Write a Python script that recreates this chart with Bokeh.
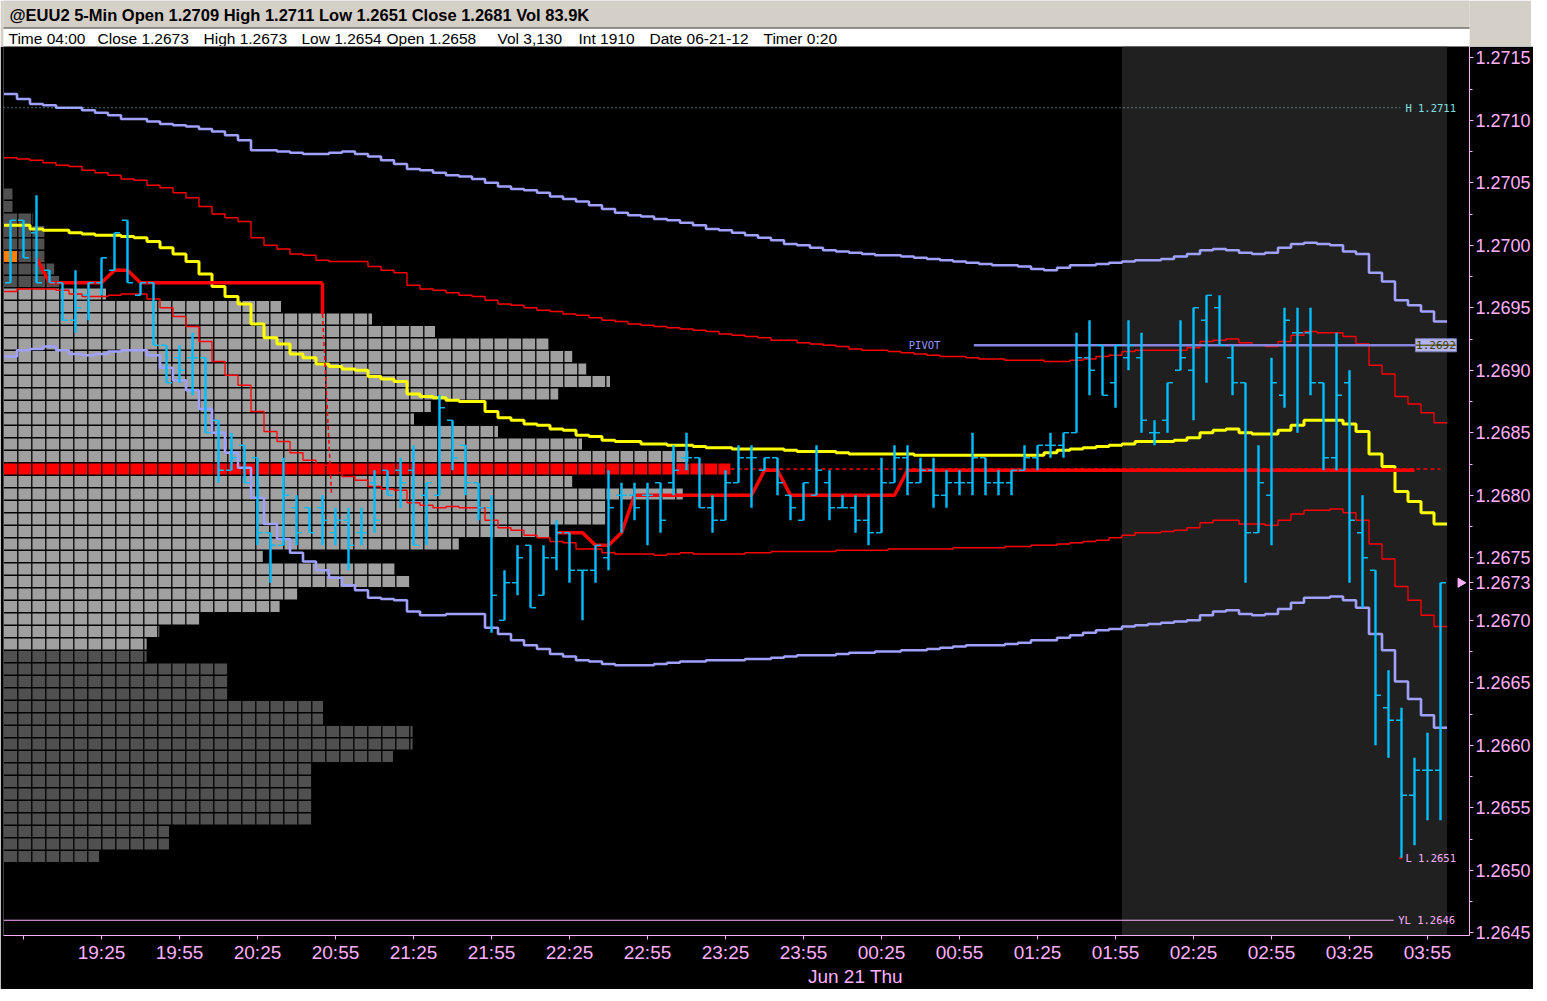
import numpy as np
from bokeh.plotting import figure
from bokeh.models import Range1d, FixedTicker, LinearAxis, PrintfTickFormatter
from bokeh.layouts import column
from bokeh.embed import file_html
from bokeh.resources import INLINE
from bokeh.core.properties import value

# ------------------------------------------------------------------ data
title_text = "@EUU2 5-Min Open 1.2709 High 1.2711 Low 1.2651 Close 1.2681 Vol 83.9K"
info_items = ["Time 04:00", "Close 1.2673", "High 1.2673", "Low 1.2654", "Open 1.2658",
              "Vol 3,130", "Int 1910", "Date 06-21-12", "Timer 0:20"]
info_x = [8, 97, 203, 301, 386, 497, 578, 649, 763]

# bar index: 0 = 19:25, one bar = 5 minutes
bars = list(range(-7, 104))
time_tick_bars = [-6, 0, 6, 12, 18, 24, 30, 36, 42, 48, 54, 60, 66, 72, 78, 84, 90, 96, 102]
time_tick_labels = ["", "19:25", "19:55", "20:25", "20:55", "21:25", "21:55", "22:25", "22:55",
                    "23:25", "23:55", "00:25", "00:55", "01:25", "01:55", "02:25", "02:55",
                    "03:25", "03:55"]
date_tick_bar = 58
date_label = "Jun 21 Thu"
session_start_bar = 79   # 02:00

price_ticks = [1.2645, 1.2650, 1.2655, 1.2660, 1.2665, 1.2670, 1.2675, 1.2680,
               1.2685, 1.2690, 1.2695, 1.2700, 1.2705, 1.2710, 1.2715]

open_ = [1.2697,1.2702,1.2701,1.2698,1.2697,1.2694,1.2696,
 1.2697,1.2698,1.2702,1.2696,1.2697,1.2692,1.2691,1.2691,1.2691,1.2686,
 1.2682,1.2684,1.2683,1.2677,1.2676,1.2679,1.2679,1.2679,1.2677,1.2678,
 1.2677,1.2681,1.2682,1.2682,1.2682,1.2680,1.2680,1.2686,1.2684,1.2681,
 1.2679,1.2670,1.2673,1.2676,1.2672,1.2675,1.2677,1.2674,1.2674,1.2675,
 1.2680,1.2680,1.2680,1.2681,1.2681,1.2683,1.2683,1.2679,1.2678,1.2681,
 1.2683,1.2682,1.2683,1.2680,1.2678,1.2680,1.2681,1.2679,1.2679,1.2678,
 1.2677,1.2681,1.2683,1.2681,1.2682,1.2680,1.2681,1.2681,1.2683,1.2681,
 1.2681,1.2682,1.2683,1.2684,1.2684,1.2685,1.2691,1.2692,1.2689,1.2691,
 1.2691,1.2685,1.2686,1.2690,1.2690,1.2694,1.2695,1.2691,1.2689,1.2677,
 1.2680,1.2688,1.2693,1.2693,1.2689,1.2683,1.2689,1.2677,1.2674,1.2663,
 1.2662,1.2656,1.2658,1.2658]
high = [1.2702,1.2702,1.2704,1.2698,1.2697,1.2698,1.2697,
 1.2699,1.2701,1.2702,1.2697,1.2697,1.2692,1.2692,1.2693,1.2691,1.2686,
 1.2685,1.2684,1.2683,1.2677,1.2683,1.2680,1.2679,1.2680,1.2679,1.2679,
 1.2679,1.2682,1.2682,1.2683,1.2684,1.2681,1.2688,1.2686,1.2684,1.2681,
 1.2680,1.2674,1.2676,1.2676,1.2676,1.2678,1.2677,1.2674,1.2676,1.2682,
 1.2681,1.2681,1.2681,1.2681,1.2684,1.2685,1.2683,1.2680,1.2682,1.2684,
 1.2684,1.2683,1.2683,1.2680,1.2681,1.2684,1.2682,1.2680,1.2680,1.2680,
 1.2683,1.2684,1.2684,1.2683,1.2683,1.2682,1.2682,1.2685,1.2683,1.2682,
 1.2682,1.2684,1.2684,1.2685,1.2685,1.2693,1.2694,1.2692,1.2692,1.2694,
 1.2693,1.2686,1.2689,1.2694,1.2695,1.2696,1.2696,1.2692,1.2689,1.2684,
 1.2691,1.2695,1.2695,1.2695,1.2689,1.2693,1.2690,1.2680,1.2674,1.2666,
 1.2663,1.2659,1.2661,1.2673]
low = [1.2697,1.2699,1.2697,1.2697,1.2694,1.2693,1.2694,
 1.2696,1.2698,1.2697,1.2696,1.2692,1.2689,1.2689,1.2688,1.2685,1.2681,
 1.2682,1.2681,1.2676,1.2673,1.2676,1.2676,1.2677,1.2676,1.2676,1.2674,
 1.2676,1.2677,1.2680,1.2679,1.2676,1.2676,1.2680,1.2682,1.2680,1.2678,
 1.2669,1.2670,1.2672,1.2671,1.2672,1.2674,1.2673,1.2670,1.2673,1.2674,
 1.2677,1.2678,1.2676,1.2677,1.2680,1.2682,1.2679,1.2677,1.2678,1.2681,
 1.2679,1.2682,1.2680,1.2678,1.2678,1.2680,1.2678,1.2679,1.2677,1.2676,
 1.2677,1.2681,1.2680,1.2681,1.2679,1.2679,1.2680,1.2680,1.2680,1.2680,
 1.2680,1.2682,1.2682,1.2683,1.2683,1.2685,1.2688,1.2688,1.2687,1.2690,
 1.2685,1.2684,1.2685,1.2690,1.2686,1.2689,1.2692,1.2688,1.2673,1.2677,
 1.2676,1.2687,1.2685,1.2688,1.2682,1.2682,1.2673,1.2671,1.2660,1.2659,
 1.2651,1.2652,1.2654,1.2654]
close = [1.2702,1.2699,1.2697,1.2697,1.2694,1.2695,1.2697,
 1.2699,1.2701,1.2697,1.2697,1.2692,1.2689,1.2690,1.2691,1.2685,1.2682,
 1.2683,1.2681,1.2677,1.2676,1.2680,1.2677,1.2677,1.2678,1.2678,1.2676,
 1.2677,1.2678,1.2680,1.2681,1.2676,1.2681,1.2687,1.2683,1.2681,1.2679,
 1.2672,1.2673,1.2675,1.2671,1.2675,1.2677,1.2674,1.2674,1.2676,1.2679,
 1.2680,1.2679,1.2680,1.2678,1.2682,1.2683,1.2679,1.2678,1.2681,1.2683,
 1.2683,1.2683,1.2681,1.2679,1.2681,1.2682,1.2679,1.2679,1.2678,1.2677,
 1.2681,1.2683,1.2681,1.2682,1.2680,1.2681,1.2681,1.2683,1.2681,1.2681,
 1.2682,1.2683,1.2684,1.2684,1.2685,1.2691,1.2690,1.2688,1.2692,1.2692,
 1.2686,1.2685,1.2689,1.2691,1.2695,1.2696,1.2692,1.2689,1.2677,1.2681,
 1.2689,1.2694,1.2693,1.2689,1.2683,1.2688,1.2678,1.2675,1.2664,1.2662,
 1.2656,1.2658,1.2658,1.2673]

vwap_yellow = [1.27016,1.27016,1.27013,1.27012,1.27012,1.27010,1.27009,
 1.27008,1.27008,1.27007,1.27006,1.27003,1.26998,1.26993,1.26987,1.26977,1.26967,
 1.26959,1.26953,1.26937,1.26926,1.26921,1.26913,1.26910,1.26905,1.26903,1.26901,
 1.26900,1.26895,1.26893,1.26891,1.26881,1.26879,1.26878,1.26876,1.26875,1.26875,
 1.26867,1.26862,1.26860,1.26857,1.26856,1.26853,1.26852,1.26848,1.26847,1.26844,
 1.26843,1.26843,1.26841,1.26841,1.26840,1.26840,1.26839,1.26838,1.26838,1.26837,
 1.26837,1.26837,1.26837,1.26836,1.26835,1.26835,1.26835,1.26834,1.26833,1.26833,
 1.26833,1.26833,1.26833,1.26832,1.26832,1.26832,1.26832,1.26832,1.26832,1.26832,
 1.26832,1.26832,1.26832,1.26834,1.26836,1.26837,1.26838,1.26839,1.26840,1.26841,
 1.26843,1.26843,1.26843,1.26844,1.26846,1.26850,1.26852,1.26853,1.26850,1.26849,
 1.26849,1.26852,1.26856,1.26860,1.26860,1.26860,1.26857,1.26851,1.26833,1.26823,
 1.26803,1.26795,1.26786,1.26777]
band1_upper = [1.27070,1.27069,1.27068,1.27066,1.27064,1.27063,1.27060,
 1.27058,1.27056,1.27053,1.27052,1.27048,1.27046,1.27042,1.27038,1.27031,1.27025,
 1.27022,1.27019,1.27006,1.27000,1.26997,1.26993,1.26992,1.26988,1.26987,1.26987,
 1.26987,1.26983,1.26980,1.26978,1.26968,1.26965,1.26964,1.26962,1.26960,1.26959,
 1.26956,1.26953,1.26952,1.26950,1.26948,1.26947,1.26945,1.26944,1.26942,1.26940,
 1.26939,1.26937,1.26936,1.26935,1.26934,1.26933,1.26932,1.26931,1.26929,1.26928,
 1.26927,1.26926,1.26924,1.26924,1.26922,1.26921,1.26920,1.26919,1.26917,1.26916,
 1.26916,1.26915,1.26914,1.26913,1.26912,1.26911,1.26911,1.26910,1.26909,1.26909,
 1.26908,1.26908,1.26908,1.26907,1.26907,1.26908,1.26909,1.26911,1.26912,1.26915,
 1.26916,1.26916,1.26916,1.26916,1.26918,1.26923,1.26924,1.26925,1.26922,1.26920,
 1.26919,1.26923,1.26928,1.26931,1.26930,1.26930,1.26927,1.26921,1.26904,1.26897,
 1.26879,1.26873,1.26866,1.26858]
band1_lower = [1.26963,1.26965,1.26965,1.26965,1.26964,1.26961,1.26959,
 1.26959,1.26960,1.26961,1.26961,1.26957,1.26950,1.26943,1.26935,1.26923,1.26907,
 1.26896,1.26888,1.26867,1.26851,1.26843,1.26834,1.26828,1.26824,1.26818,1.26815,
 1.26812,1.26807,1.26805,1.26804,1.26794,1.26792,1.26790,1.26791,1.26790,1.26790,
 1.26780,1.26774,1.26772,1.26768,1.26766,1.26763,1.26762,1.26757,1.26757,1.26754,
 1.26753,1.26753,1.26753,1.26752,1.26753,1.26754,1.26753,1.26753,1.26753,1.26753,
 1.26754,1.26754,1.26755,1.26755,1.26755,1.26755,1.26755,1.26756,1.26756,1.26756,
 1.26756,1.26757,1.26757,1.26757,1.26757,1.26757,1.26758,1.26758,1.26758,1.26758,
 1.26759,1.26759,1.26760,1.26760,1.26761,1.26762,1.26763,1.26764,1.26766,1.26768,
 1.26770,1.26770,1.26771,1.26772,1.26774,1.26778,1.26780,1.26780,1.26777,1.26777,
 1.26776,1.26780,1.26785,1.26788,1.26788,1.26789,1.26786,1.26780,1.26761,1.26749,
 1.26727,1.26716,1.26704,1.26695]
band2_upper = [1.27121,1.27117,1.27113,1.27112,1.27110,1.27110,1.27108,
 1.27106,1.27104,1.27101,1.27101,1.27099,1.27097,1.27096,1.27095,1.27093,1.27091,
 1.27088,1.27084,1.27076,1.27076,1.27075,1.27074,1.27073,1.27073,1.27074,1.27075,
 1.27073,1.27071,1.27068,1.27065,1.27061,1.27060,1.27058,1.27056,1.27055,1.27053,
 1.27050,1.27047,1.27045,1.27044,1.27042,1.27039,1.27037,1.27035,1.27032,1.27029,
 1.27026,1.27024,1.27023,1.27021,1.27020,1.27018,1.27016,1.27013,1.27012,1.27010,
 1.27008,1.27006,1.27004,1.27001,1.27000,1.26998,1.26996,1.26995,1.26994,1.26993,
 1.26992,1.26992,1.26991,1.26990,1.26989,1.26988,1.26987,1.26986,1.26985,1.26984,
 1.26984,1.26983,1.26981,1.26980,1.26982,1.26984,1.26984,1.26985,1.26986,1.26987,
 1.26988,1.26988,1.26989,1.26991,1.26993,1.26996,1.26997,1.26996,1.26994,1.26993,
 1.26994,1.26998,1.27001,1.27002,1.27001,1.27000,1.26995,1.26993,1.26978,1.26971,
 1.26956,1.26952,1.26947,1.26939]
band2_lower = [1.26911,1.26916,1.26917,1.26919,1.26916,1.26913,1.26912,
 1.26913,1.26915,1.26916,1.26916,1.26912,1.26902,1.26892,1.26884,1.26869,1.26850,
 1.26834,1.26822,1.26798,1.26777,1.26765,1.26754,1.26747,1.26740,1.26734,1.26728,
 1.26724,1.26718,1.26717,1.26716,1.26707,1.26704,1.26704,1.26705,1.26705,1.26705,
 1.26694,1.26689,1.26684,1.26680,1.26677,1.26673,1.26671,1.26668,1.26667,1.26665,
 1.26664,1.26664,1.26664,1.26665,1.26666,1.26667,1.26667,1.26668,1.26668,1.26668,
 1.26669,1.26669,1.26670,1.26671,1.26672,1.26672,1.26672,1.26673,1.26674,1.26674,
 1.26675,1.26675,1.26676,1.26676,1.26677,1.26678,1.26679,1.26680,1.26680,1.26680,
 1.26681,1.26682,1.26684,1.26684,1.26686,1.26688,1.26690,1.26692,1.26693,1.26695,
 1.26696,1.26697,1.26698,1.26699,1.26700,1.26704,1.26707,1.26708,1.26705,1.26704,
 1.26705,1.26709,1.26714,1.26718,1.26718,1.26719,1.26716,1.26710,1.26689,1.26676,
 1.26651,1.26637,1.26624,1.26614]

# developing POC (thick red), two sessions
dpoc_a_bars = list(range(-5, 18))
dpoc_a = [1.2699, 1.2697, 1.2697, 1.2697, 1.2697, 1.2697, 1.2698, 1.2698,
          1.2697, 1.2697, 1.2697, 1.2697, 1.2697, 1.2697, 1.2697, 1.2697,
          1.2697, 1.2697, 1.2697, 1.2697, 1.2697, 1.2697, 1.2697]
dpoc_b_bars = list(range(35, 102))
dpoc_b = [1.2677, 1.2677, 1.2677, 1.2676, 1.2676, 1.2677,
          1.2680, 1.2680, 1.2680, 1.2680, 1.2680, 1.2680, 1.2680, 1.2680, 1.2680, 1.2680,
          1.2682, 1.2682,
          1.2680, 1.2680, 1.2680, 1.2680, 1.2680, 1.2680, 1.2680, 1.2680, 1.2680,
          1.2682, 1.2682, 1.2682, 1.2682, 1.2682, 1.2682, 1.2682, 1.2682, 1.2682, 1.2682,
          1.2682, 1.2682, 1.2682, 1.2682, 1.2682, 1.2682, 1.2682, 1.2682, 1.2682, 1.2682,
          1.2682, 1.2682, 1.2682, 1.2682, 1.2682, 1.2682, 1.2682, 1.2682, 1.2682, 1.2682,
          1.2682, 1.2682, 1.2682, 1.2682, 1.2682, 1.2682, 1.2682, 1.2682, 1.2682, 1.2682]

# market profile (left): price levels and TPO widths
profile_price = [1.2704, 1.2703, 1.2702, 1.2701, 1.2700, 1.2699, 1.2698, 1.2697,
                 1.2696, 1.2695, 1.2694, 1.2693, 1.2692, 1.2691, 1.2690, 1.2689,
                 1.2688, 1.2687, 1.2686, 1.2685, 1.2684, 1.2683, 1.2682, 1.2681,
                 1.2680, 1.2679, 1.2678, 1.2677, 1.2676, 1.2675, 1.2674, 1.2673,
                 1.2672, 1.2671, 1.2670, 1.2669, 1.2668, 1.2667, 1.2666, 1.2665,
                 1.2664, 1.2663, 1.2662, 1.2661, 1.2660, 1.2659, 1.2658, 1.2657,
                 1.2656, 1.2655, 1.2654, 1.2653, 1.2652, 1.2651]
profile_tpo = [0.62, 0.62, 2.1, 2.9, 2.9, 2.9, 3.6, 4.0,
               7.3, 19.8, 26.3, 30.8, 38.9, 40.6, 41.6, 43.3,
               39.6, 30.5, 29.3, 35.3, 41.3, 48.9, 51.9, 40.6,
               48.5, 43.0, 43.0, 39.0, 32.5, 18.5, 27.9, 29.0,
               21.0, 19.7, 14.0, 11.1, 10.2, 10.2, 16.0, 16.0,
               16.0, 22.8, 22.8, 29.2, 29.2, 27.8, 22.0, 22.0,
               22.0, 22.0, 22.0, 11.8, 11.8, 6.8]
profile_poc = 1.2682
profile_vah = 1.2696
profile_val = 1.2668
profile_open = 1.2699

pivot = 1.2692
prev_high = 1.2711
prev_low_yl = 1.2646
sess_low = 1.2651
last_price = 1.2673

# ------------------------------------------------------------------ styles
PINK = "#ffb0ff"
CYAN = "#00bfff"
LAV = "#a0a0ff"
RED = "#ff0000"
YEL = "#ffff00"
FONT = "Liberation Sans"
MONO = "DejaVu Sans Mono"

FRAME_W = 1466
FRAME_H = 889
LEFT_B = 3
RIGHT_B = 62
PX_PER_BAR = 13.0
PX_PER_PRICE = 125000.0
X0 = (LEFT_B - 101) / PX_PER_BAR
X1 = X0 + FRAME_W / PX_PER_BAR
Y1 = 1.27159
Y0 = Y1 - FRAME_H / PX_PER_PRICE

# ------------------------------------------------------------------ header
hdr = figure(frame_width=FRAME_W, frame_height=46, x_range=Range1d(LEFT_B, LEFT_B + FRAME_W),
             y_range=Range1d(46, 0), output_backend="svg", toolbar_location=None,
             x_axis_location=None, y_axis_location=None, min_border_left=LEFT_B,
             min_border_right=RIGHT_B, min_border_top=0, min_border_bottom=0,
             background_fill_color="#d4d0c8", border_fill_color="#d4d0c8",
             outline_line_color=None)
hdr.grid.visible = False
hdr.quad(left=[0], right=[1600], top=[28], bottom=[47], fill_color="white", line_color=None)
hdr.segment(x0=[0], y0=[27.5], x1=[1600], y1=[27.5], line_color="#404040", line_width=1)
hdr.text(x=[9], y=[14], text=[title_text], text_font=value(FONT), text_font_style="bold",
         text_font_size="16.5px", text_baseline="middle", text_color="black")
hdr.text(x=info_x, y=[37.5] * len(info_x), text=info_items, text_font=value(FONT),
         text_font_size="15.5px", text_baseline="middle", text_color="black")

# ------------------------------------------------------------------ main chart
p = figure(frame_width=FRAME_W, frame_height=FRAME_H, x_range=Range1d(X0, X1),
           y_range=Range1d(Y0, Y1), output_backend="svg", toolbar_location=None,
           y_axis_location="right", background_fill_color="black", border_fill_color="black",
           outline_line_color=None, min_border_left=LEFT_B, min_border_top=0,
           min_border_right=0, min_border_bottom=0)
p.grid.visible = False

# session shading
p.quad(left=[session_start_bar - 0.5], right=[bars[-1] + 0.5], bottom=[Y0], top=[Y1],
       fill_color="#202020", line_color=None)

# market profile
cw = 14 / PX_PER_BAR
shift = 0.00001
pl = (3.3 - 101) / PX_PER_BAR
ql, qr, qt, qb, qc = [], [], [], [], []
for pr, n in zip(profile_price, profile_tpo):
    if round(pr, 4) == profile_poc:
        c = RED
    elif profile_val <= pr + 1e-9 and pr - 1e-9 <= profile_vah:
        c = "#a0a0a0"
    else:
        c = "#505050"
    ql.append(pl); qr.append(pl + n * cw)
    qt.append(pr + 0.00005 + shift); qb.append(pr - 0.00005 + shift); qc.append(c)
p.quad(left=ql, right=qr, top=qt, bottom=qb, fill_color=qc, line_color=None)
p.quad(left=[pl], right=[pl + cw], top=[profile_open + 0.00005 + shift],
       bottom=[profile_open - 0.00005 + shift], fill_color="#ff8000", line_color=None)
maxn = max(profile_tpo)
ptop = max(qt); pbot = min(qb)
vx = [pl + k * cw for k in range(1, int(maxn) + 2)]
p.segment(x0=vx, y0=[pbot] * len(vx), x1=vx, y1=[ptop] * len(vx), line_color="black", line_width=1.3)
hy = qt + [pbot]
p.segment(x0=[pl] * len(hy), y0=hy, x1=[pl + maxn * cw + 0.5] * len(hy), y1=hy,
          line_color="black", line_width=1.3)


def steps(bx, vals):
    xs, ys = [], []
    for b, v in zip(bx, vals):
        xs += [b - 0.5, b + 0.5]
        ys += [v, v]
    return xs, ys


for series, col, lw in [(band2_upper, LAV, 2.6), (band2_lower, LAV, 2.6),
                        (band1_upper, RED, 1.3), (band1_lower, RED, 1.3),
                        (vwap_yellow, YEL, 3)]:
    sx, sy = steps(bars, series)
    p.line(sx, sy, line_color=col, line_width=lw)

# POC extension (dashed) and developing POC (thick)
p.line([pl + profile_tpo[profile_price.index(profile_poc)] * cw, bars[-1]],
       [profile_poc + shift, profile_poc + shift], line_color=RED, line_width=1.5, line_dash="4 3")
p.line(dpoc_a_bars, dpoc_a, line_color=RED, line_width=3.5)
p.line([dpoc_a_bars[-1], dpoc_a_bars[-1]], [dpoc_a[-1], 1.26945], line_color=RED, line_width=3.5)
p.line([dpoc_a_bars[-1], 17.7], [1.26945, 1.2680], line_color=RED, line_width=1.5, line_dash="4 3")
p.line(dpoc_b_bars, dpoc_b, line_color=RED, line_width=3.5)

# pivot line and tag
p.segment(x0=[67.1], y0=[pivot], x1=[101.2], y1=[pivot], line_color="#8585e0", line_width=2.5)
p.text(x=[62.1], y=[pivot], text=["PIVOT"], text_font=value(MONO), text_font_size="10.5px",
       text_baseline="middle", text_color="#9999ff")
p.rect(x=[102.65], y=[pivot], width=3.15, height=0.000104, fill_color="#b4b4f0",
       line_color="#8080c0")
p.segment(x0=[101.1], y0=[pivot], x1=[104.2], y1=[pivot], line_color="#606020", line_width=1.5)
p.text(x=[102.65], y=[pivot], text=["1.2692"], text_font=value(MONO), text_font_size="11px",
       text_baseline="middle", text_align="center", text_color="#404000")

# previous high / low lines
p.segment(x0=[X0], y0=[prev_high], x1=[99.9], y1=[prev_high], line_color="#80e0e0",
          line_width=1, line_dash="1 3")
p.text(x=[100.3], y=[prev_high], text=["H 1.2711"], text_font=value(MONO),
       text_font_size="10.5px", text_baseline="middle", text_color="#80e0e0")
p.segment(x0=[X0], y0=[prev_low_yl], x1=[99.4], y1=[prev_low_yl], line_color=PINK, line_width=1)
p.text(x=[99.75], y=[prev_low_yl], text=["YL 1.2646"], text_font=value(MONO),
       text_font_size="10.5px", text_baseline="middle", text_color=PINK)
p.text(x=[100.3], y=[sess_low], text=["L 1.2651"], text_font=value(MONO),
       text_font_size="10.5px", text_baseline="middle", text_color=PINK)
p.scatter(x=[99.95], y=[sess_low], marker="square", size=2, color=RED)

# OHLC bars
b = np.array(bars, dtype=float)
p.segment(x0=b, y0=low, x1=b, y1=high, line_color=CYAN, line_width=2.4)
p.segment(x0=b - 0.42, y0=open_, x1=b, y1=open_, line_color=CYAN, line_width=1.4)
p.segment(x0=b, y0=close, x1=b + 0.42, y1=close, line_color=CYAN, line_width=1.4)

# last price marker
p.scatter(x=[104.55], y=[last_price], marker="triangle", angle=-np.pi / 2, size=9,
          fill_color=PINK, line_color=PINK)

# axes
ya = p.yaxis[0]
ya.ticker = FixedTicker(ticks=price_ticks + [last_price],
                        minor_ticks=[t + 0.00025 for t in price_ticks[:-1]])
ya.formatter = PrintfTickFormatter(format="%.4f")
ya.axis_line_color = PINK
ya.major_tick_line_color = PINK
ya.minor_tick_line_color = PINK
ya.major_tick_in = 0
ya.major_tick_out = 4
ya.minor_tick_in = 0
ya.minor_tick_out = 3
ya.major_label_text_color = PINK
ya.major_label_text_font = FONT
ya.major_label_text_font_size = "18px"
ya.major_label_standoff = 2

xa = p.xaxis[0]
xa.ticker = FixedTicker(ticks=time_tick_bars, minor_ticks=[])
xa.major_label_overrides = {t: l for t, l in zip(time_tick_bars, time_tick_labels)}
xa.axis_line_color = PINK
xa.major_tick_line_color = PINK
xa.major_tick_in = 0
xa.major_tick_out = 4
xa.major_label_text_color = PINK
xa.major_label_text_font = FONT
xa.major_label_text_font_size = "19px"
xa.major_label_standoff = 2

da = LinearAxis(ticker=FixedTicker(ticks=[date_tick_bar], minor_ticks=[]),
                major_label_overrides={date_tick_bar: date_label})
da.axis_line_color = None
da.major_tick_line_color = None
da.major_tick_out = 0
da.major_label_standoff = 0
da.major_label_text_color = PINK
da.major_label_text_font = FONT
da.major_label_text_font_size = "19px"
p.add_layout(da, "below")

layout = column(hdr, p, spacing=0)
open("out.html", "w").write(file_html(layout, INLINE))
